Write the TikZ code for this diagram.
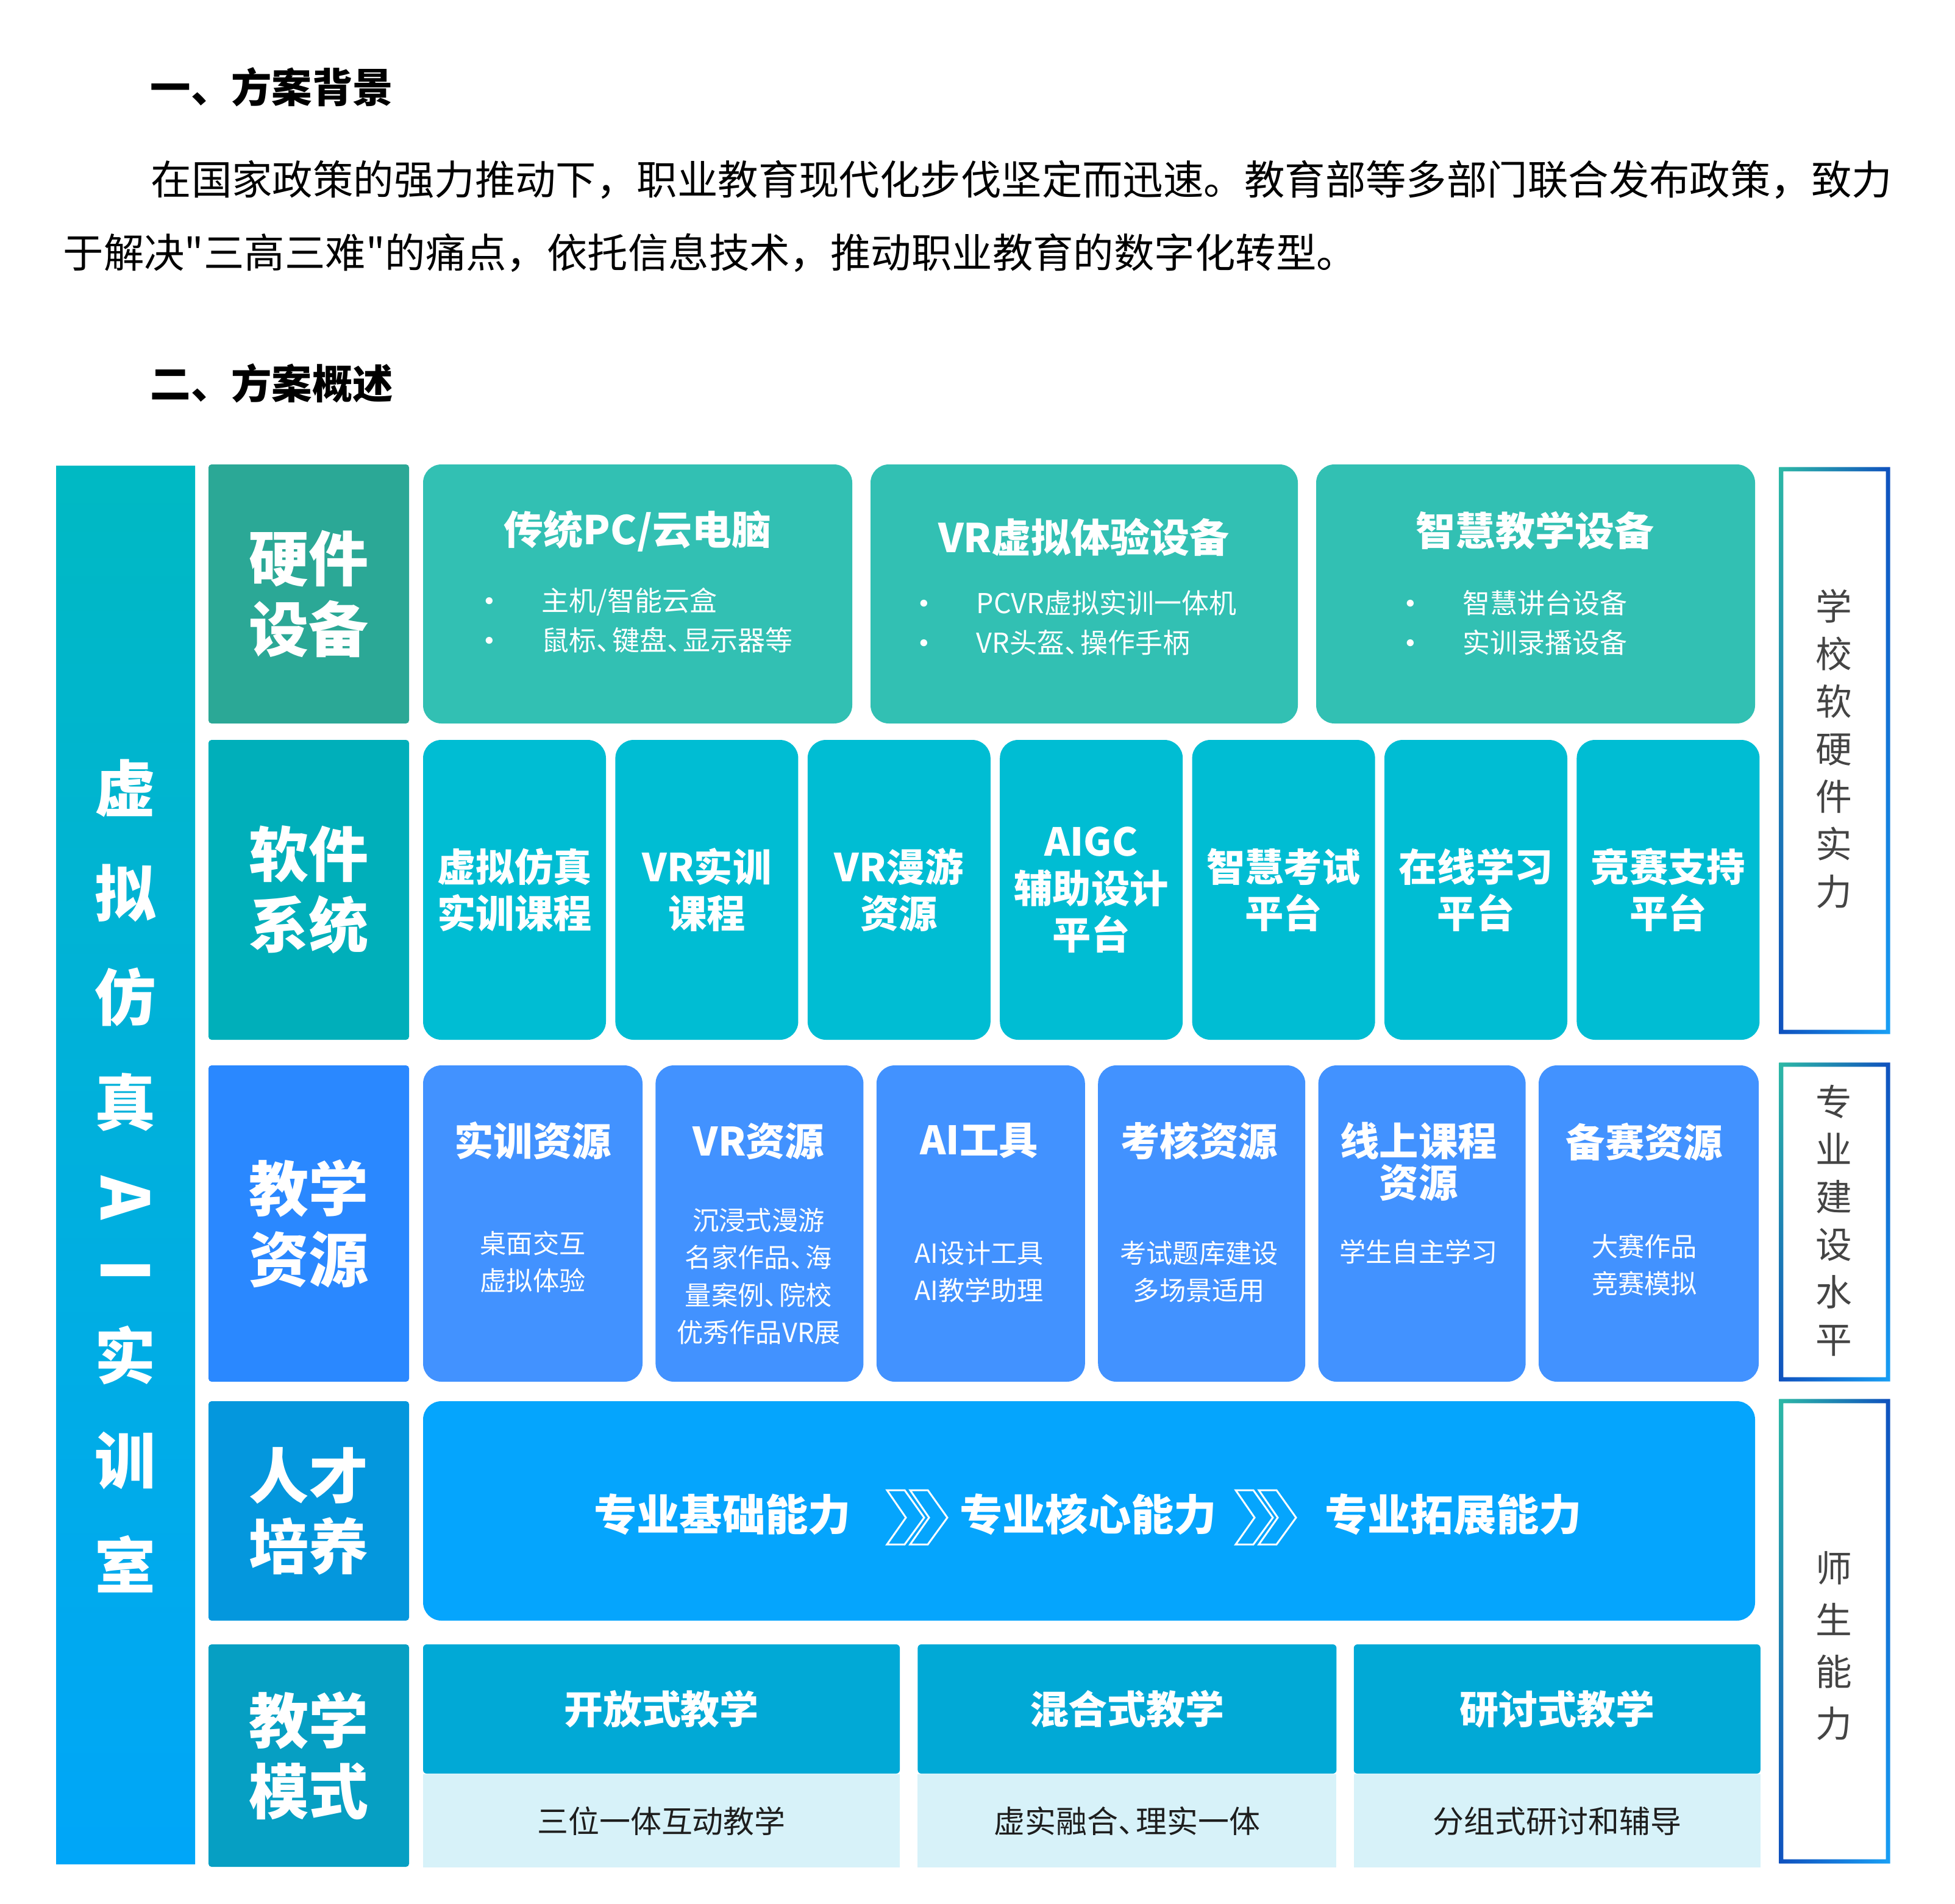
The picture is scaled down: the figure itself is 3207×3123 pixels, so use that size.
\documentclass[tikz,border=0pt]{standalone}
\usepackage{fontspec}
\setmainfont{Noto Sans CJK SC}[Ligatures=TeXOff]
\usepackage{tikz}
\usetikzlibrary{positioning,shadings}
\usepackage{xcolor}
\definecolor{barteal}{RGB}{0,185,195}
\definecolor{barblue}{RGB}{0,166,248}
\definecolor{hwlabel}{RGB}{43,168,150}
\definecolor{hwcard}{RGB}{50,192,179}
\definecolor{swlabel}{RGB}{0,175,186}
\definecolor{swcard}{RGB}{0,189,211}
\definecolor{reslabel}{RGB}{42,136,255}
\definecolor{rescard}{RGB}{66,146,255}
\definecolor{tallabel}{RGB}{4,151,221}
\definecolor{talcard}{RGB}{5,165,253}
\definecolor{modelabel}{RGB}{6,159,195}
\definecolor{mdtop}{RGB}{1,169,214}
\definecolor{mdbot}{RGB}{215,242,249}
\definecolor{darktext}{RGB}{30,30,30}
\definecolor{sidegray}{RGB}{68,68,68}
\definecolor{edgeteal}{RGB}{45,185,165}
\definecolor{edgenavy}{RGB}{15,80,190}
\definecolor{edgesky}{RGB}{25,160,245}
\tikzstyle{headtext} = [inner sep=0pt, anchor=west, font=\bfseries\fontsize{18.9}{22}\selectfont]
\tikzstyle{bodytext} = [inner sep=0pt, anchor=west, font=\fontsize{18.9}{22}\selectfont]
\tikzstyle{bartext} = [inner sep=0pt, text=white, align=center, font=\bfseries\fontsize{28.5}{48.9}\selectfont]
\tikzstyle{rowlabel} = [rectangle, rounded corners=0.5mm, minimum width=32.9mm, inner sep=0pt, text=white, align=center, font=\bfseries\fontsize{27.9}{33}\selectfont]
\tikzstyle{card} = [rectangle, rounded corners=3mm, inner sep=0pt, text=white, align=center]
\tikzstyle{cardtitle} = [inner sep=0pt, text=white, align=center, font=\bfseries\fontsize{18.3}{19.4}\selectfont]
\tikzstyle{cardnote} = [inner sep=0pt, text=white, align=center, font=\fontsize{12.3}{17.4}\selectfont]
\tikzstyle{cardlist} = [inner sep=0pt, text=white, align=left, anchor=west, font=\fontsize{12.8}{18.5}\selectfont]
\tikzstyle{swtext} = [font=\bfseries\fontsize{18}{21.7}\selectfont]
\tikzstyle{talenttext} = [inner sep=0pt, text=white, font=\bfseries\fontsize{20}{24}\selectfont]
\tikzstyle{modehead} = [rectangle, rounded corners=0.6mm, fill=mdtop, inner sep=0pt, minimum height=21.2mm, text=white, font=\bfseries\fontsize{18.2}{22}\selectfont]
\tikzstyle{modefoot} = [rectangle, fill=mdbot, inner sep=0pt, minimum height=15.3mm, text=darktext, font=\fontsize{14.5}{17}\selectfont]
\tikzstyle{sidebox} = [rectangle, inner sep=0pt, minimum width=18.1mm]
\tikzstyle{sidetext} = [inner sep=0pt, text=sidegray, align=center, font=\fontsize{17}{22.2}\selectfont]
\tikzstyle{sideedge} = [even odd rule, upper left=edgeteal, upper right=edgenavy, lower left=edgenavy, lower right=edgesky]
\tikzstyle{chev} = [draw=white, line width=0.3mm]
\newcommand{\listdot}{\makebox[9.3mm][l]{\raisebox{0.2em}{\scalebox{0.7}{$\bullet$}}}}
\newcommand{\dun}{、\kern-0.42em}

\begin{document}
\begin{tikzpicture}[x=0.1mm, y=-0.1mm]
\useasboundingbox (0,0) rectangle (3207,3123);
% Text above
\node (head1) [headtext] at (246,143) {一、方案背景};
\node (para1) [bodytext] at (247,295) {在国家政策的强力推动下，职业教育现代化步伐坚定而迅速。教育部等多部门联合发布政策，致力};
\node (para2) [bodytext] at (103,415) {于解决"三高三难"的痛点，依托信息技术，推动职业教育的数字化转型。};
\node (head2) [headtext] at (246,629) {二、方案概述};

% Left bar
\node (bar) [rectangle, inner sep=0pt, minimum width=22.8mm, minimum height=229.4mm, top color=barteal, bottom color=barblue] at (206,1911) {};
\node (bartop) [bartext] at (206,1551) {虚\\拟\\仿\\真};
\node (barA) [bartext, rotate=-90, font=\bfseries\fontsize{31}{31}\selectfont] at (206,1965) {A};
\node (barI) [bartext, rotate=-90, font=\bfseries\fontsize{31}{31}\selectfont] at (206,2085) {I};
\node (barbot) [bartext] at (206,2394) {实\\训\\室};

% Row labels
\node (hwlab) [rowlabel, fill=hwlabel, minimum height=42.5mm] at (506.5,974.5) {硬件\\设备};
\node (swlab) [rowlabel, fill=swlabel, minimum height=49.2mm] at (506.5,1460) {软件\\系统};
\node (reslab) [rowlabel, fill=reslabel, minimum height=51.9mm] at (506.5,2007.5) {教学\\资源};
\node (tallab) [rowlabel, fill=tallabel, minimum height=36mm] at (506.5,2479) {人才\\培养};
\node (modelab) [rowlabel, fill=modelabel, minimum height=36.5mm] at (506.5,2880.5) {教学\\模式};

% Hardware
\node (pc) [card, fill=hwcard, minimum width=70.4mm, minimum height=42.5mm] at (1046,974.5) {};
\node (vr) [card, fill=hwcard, minimum width=70.1mm, minimum height=42.5mm] at (1778.5,974.5) {};
\node (smart) [card, fill=hwcard, minimum width=72mm, minimum height=42.5mm] at (2519,974.5) {};
\node (pctitle) [cardtitle, font=\bfseries\fontsize{18.5}{20}\selectfont] at (1046,871) {传统PC/云电脑};
\node (vrtitle) [cardtitle, font=\bfseries\fontsize{18.5}{20}\selectfont] at (1778,881) {VR虚拟体验设备};
\node (smarttitle) [cardtitle, font=\bfseries\fontsize{18.5}{20}\selectfont] at (2518,871) {智慧教学设备};
\node (pclist) [cardlist] at (795,1018) {\listdot{}主机/智能云盒\\\listdot{}鼠标\dun{}键盘\dun{}显示器等};
\node (vrlist) [cardlist] at (1508,1022) {\listdot{}PCVR虚拟实训一体机\\\listdot{}VR头盔\dun{}操作手柄};
\node (smartlist) [cardlist] at (2306,1022) {\listdot{}智慧讲台设备\\\listdot{}实训录播设备};

% Software
\node (sw1) [card, swtext, fill=swcard, minimum width=30mm, minimum height=49.2mm] at (844,1460) {虚拟仿真\\实训课程};
\node (sw2) [card, swtext, fill=swcard, minimum width=30mm, minimum height=49.2mm, right=1.4mm of sw1] {VR实训\\课程};
\node (sw3) [card, swtext, fill=swcard, minimum width=30mm, minimum height=49.2mm, right=1.4mm of sw2] {VR漫游\\资源};
\node (sw4) [card, swtext, fill=swcard, minimum width=30mm, minimum height=49.2mm, right=1.4mm of sw3] {AIGC\\辅助设计\\平台};
\node (sw5) [card, swtext, fill=swcard, minimum width=30mm, minimum height=49.2mm, right=1.4mm of sw4] {智慧考试\\平台};
\node (sw6) [card, swtext, fill=swcard, minimum width=30mm, minimum height=49.2mm, right=1.4mm of sw5] {在线学习\\平台};
\node (sw7) [card, swtext, fill=swcard, minimum width=30mm, minimum height=49.2mm, right=1.4mm of sw6] {竞赛支持\\平台};

% Teaching resources
\node (res1) [card, fill=rescard, minimum width=36mm, minimum height=51.9mm] at (874,2007.5) {};
\node (res2) [card, fill=rescard, minimum width=34.1mm, minimum height=51.9mm, right=2mm of res1] {};
\node (res3) [card, fill=rescard, minimum width=34.2mm, minimum height=51.9mm, right=2mm of res2] {};
\node (res4) [card, fill=rescard, minimum width=34mm, minimum height=51.9mm, right=2mm of res3] {};
\node (res5) [card, fill=rescard, minimum width=34mm, minimum height=51.9mm, right=2mm of res4] {};
\node (res6) [card, fill=rescard, minimum width=36.1mm, minimum height=51.9mm, right=2mm of res5] {};
\node (res1title) [cardtitle] at (874,1872) {实训资源};
\node (res2title) [cardtitle] at (1244.5,1872) {VR资源};
\node (res3title) [cardtitle] at (1606,1872) {AI工具};
\node (res4title) [cardtitle] at (1967,1872) {考核资源};
\node (res5title) [cardtitle] at (2327,1906) {线上课程\\资源};
\node (res6title) [cardtitle] at (2697.5,1874) {备赛资源};
\node (res1note) [cardnote] at (874,2070) {桌面交互\\虚拟体验};
\node (res2note) [cardnote] at (1244.5,2094) {沉浸式漫游\\名家作品\dun{}海\\量案例\dun{}院校\\优秀作品VR展};
\node (res3note) [cardnote] at (1606,2087) {AI设计工具\\AI教学助理};
\node (res4note) [cardnote] at (1967,2087) {考试题库建设\\多场景适用};
\node (res5note) [cardnote] at (2327,2054) {学生自主学习};
\node (res6note) [cardnote] at (2697.5,2075) {大赛作品\\竞赛模拟};

% Talent
\node (talent) [card, fill=talcard, minimum width=218.5mm, minimum height=36mm] at (1786.5,2479) {};
\node (tal1) [talenttext] at (1185,2485) {专业基础能力};
\node (tal2) [talenttext] at (1785,2485) {专业核心能力};
\node (tal3) [talenttext] at (2384,2485) {专业拓展能力};
\draw[chev] (1455,2445) -- ++(29,0) -- ++(32,45) -- ++(-32,44) -- ++(-29,0) -- ++(31,-44) -- cycle;
\draw[chev] (1493,2445) -- ++(29,0) -- ++(32,45) -- ++(-32,44) -- ++(-29,0) -- ++(31,-44) -- cycle;
\draw[chev] (2027,2445) -- ++(29,0) -- ++(32,45) -- ++(-32,44) -- ++(-29,0) -- ++(31,-44) -- cycle;
\draw[chev] (2065,2445) -- ++(29,0) -- ++(32,45) -- ++(-32,44) -- ++(-29,0) -- ++(31,-44) -- cycle;

% Teaching modes
\node (mode1) [modehead, minimum width=78.2mm] at (1085,2804) {开放式教学};
\node (mode2) [modehead, minimum width=68.7mm, right=2.8mm of mode1] {混合式教学};
\node (mode3) [modehead, minimum width=66.7mm, right=2.7mm of mode2] {研讨式教学};
\node (mode1foot) [modefoot, minimum width=78.2mm, below=0mm of mode1] {三位一体互动教学};
\node (mode2foot) [modefoot, minimum width=68.7mm, below=0mm of mode2] {虚实融合\dun{}理实一体};
\node (mode3foot) [modefoot, minimum width=66.7mm, below=0mm of mode3] {分组式研讨和辅导};

% Right side
\node (side1) [sidebox, minimum height=92.9mm] at (3009.5,1231.5) {};
\node (side2) [sidebox, minimum height=52.2mm] at (3009.5,2005) {};
\node (side3) [sidebox, minimum height=76.1mm] at (3009.5,2676.5) {};
\shade[sideedge] (side1.north west) rectangle (side1.south east) ([shift={(7,7)}]side1.north west) rectangle ([shift={(-7,-7)}]side1.south east);
\shade[sideedge] (side2.north west) rectangle (side2.south east) ([shift={(7,7)}]side2.north west) rectangle ([shift={(-7,-7)}]side2.south east);
\shade[sideedge] (side3.north west) rectangle (side3.south east) ([shift={(7,7)}]side3.north west) rectangle ([shift={(-7,-7)}]side3.south east);
\node (side1text) [sidetext] at (3008,1229) {学\\校\\软\\硬\\件\\实\\力};
\node (side2text) [sidetext] at (3008,2003) {专\\业\\建\\设\\水\\平};
\node (side3text) [sidetext, font=\fontsize{17}{24.2}\selectfont] at (3008,2700) {师\\生\\能\\力};
\end{tikzpicture}
\end{document}
